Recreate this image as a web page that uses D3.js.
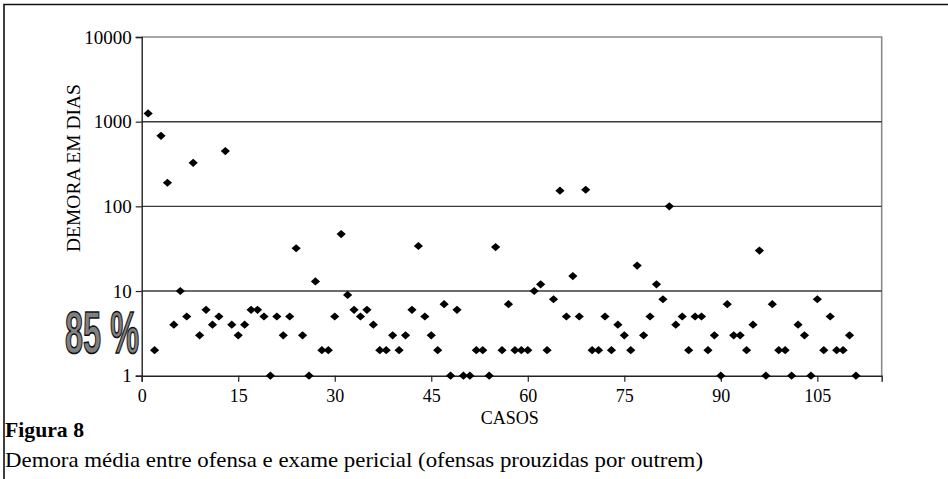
<!DOCTYPE html>
<html>
<head>
<meta charset="utf-8">
<script src="https://cdn.jsdelivr.net/npm/d3@7"></script>
<style>
  html, body { margin: 0; padding: 0; background: #fff; }
  svg { display: block; }
  text { font-family: "Liberation Serif", "Times New Roman", serif; fill: #000; }
</style>
</head>
<body>
<svg id="chart" width="948" height="479"></svg>
<script>
// Case numbers (1..111) and delay in days between offence and forensic exam
const casos = d3.range(1, 112);
const demora = [
  1250, 2, 680, 190, 4, 10, 5, 327, 3, 6,
  4, 5, 450, 4, 3, 4, 6, 6, 5, 1,
  5, 3, 5, 32, 3, 1, 13, 2, 2, 5,
  47, 9, 6, 5, 6, 4, 2, 2, 3, 2,
  3, 6, 34, 5, 3, 2, 7, 1, 6, 1,
  1, 2, 2, 1, 33, 2, 7, 2, 2, 2,
  10, 12, 2, 8, 153, 5, 15, 5, 157, 2,
  2, 5, 2, 4, 3, 2, 20, 3, 5, 12,
  8, 100, 4, 5, 2, 5, 5, 2, 3, 1,
  7, 3, 3, 2, 4, 30, 1, 7, 2, 2,
  1, 4, 3, 1, 8, 2, 5, 2, 2, 3,
  1
];
const xTicks = [0, 15, 30, 45, 60, 75, 90, 105];
const yTicks = [1, 10, 100, 1000, 10000];

const svg = d3.select("#chart");
const plot = { left: 141.7, right: 881.7, top: 37, bottom: 375.7 };

const x = d3.scaleLinear().domain([0, 115]).range([plot.left, plot.right]);
const y = d3.scaleLog().domain([1, 10000]).range([plot.bottom, plot.top]);

// outer frame (top and left edges)
svg.append("path")
  .attr("d", "M4,479 V4.5 H948")
  .attr("fill", "none").attr("stroke", "#111").attr("stroke-width", 1.6);

// plot box top/right in grey
svg.append("path")
  .attr("d", `M${plot.left},${plot.top} H${plot.right} V${plot.bottom}`)
  .attr("fill", "none").attr("stroke", "#8a8a8a").attr("stroke-width", 1.6);

// horizontal gridlines
svg.append("g").selectAll("line")
  .data(yTicks.filter(v => v > 1 && v < 10000))
  .join("line")
  .attr("x1", plot.left).attr("x2", plot.right)
  .attr("y1", d => y(d)).attr("y2", d => y(d))
  .attr("stroke", "#3a3a3a").attr("stroke-width", 1.4);

// Y axis
const yAxis = svg.append("g")
  .attr("transform", `translate(${plot.left},0)`)
  .call(d3.axisLeft(y).tickValues(yTicks).tickFormat(d3.format("d")).tickSize(6).tickPadding(4));
yAxis.select(".domain").attr("stroke", "#222").attr("stroke-width", 1.4);
yAxis.selectAll(".tick line").attr("stroke", "#222").attr("stroke-width", 1.2);
yAxis.selectAll(".tick text").attr("font-size", 19).attr("fill", "#000");

// X axis
const xAxis = svg.append("g")
  .attr("transform", `translate(0,${plot.bottom})`)
  .call(d3.axisBottom(x).tickValues(xTicks).tickFormat(d3.format("d")).tickSize(6).tickPadding(8));
xAxis.select(".domain").attr("stroke", "#222").attr("stroke-width", 1.4);
xAxis.selectAll(".tick line").attr("stroke", "#222").attr("stroke-width", 1.2);
xAxis.selectAll(".tick text").attr("font-size", 18).attr("fill", "#000");
yAxis.attr("font-family", null);
xAxis.attr("font-family", null);

// rhombus marker, slightly wider than tall
const rhombus = {
  draw(ctx, size) {
    const w = 4.6, h = 4.1;
    ctx.moveTo(0, -h); ctx.lineTo(w, 0); ctx.lineTo(0, h); ctx.lineTo(-w, 0); ctx.closePath();
  }
};
svg.append("g").selectAll("path")
  .data(casos.map((c, i) => ({ c, v: demora[i] })))
  .join("path")
  .attr("d", d3.symbol().type(rhombus))
  .attr("transform", d => `translate(${x(d.c)},${y(d.v)})`)
  .attr("fill", "#000");

// axis titles
svg.append("text")
  .attr("transform", "translate(80,168) rotate(-90)")
  .attr("text-anchor", "middle")
  .attr("font-size", 19.5)
  .text("DEMORA EM DIAS");

svg.append("text")
  .attr("x", (plot.left + plot.right) / 2 - 2).attr("y", 424)
  .attr("text-anchor", "middle")
  .attr("font-size", 18)
  .text("CASOS");

// share annotation
svg.append("text")
  .attr("x", 65).attr("y", 353)
  .attr("textLength", 74).attr("lengthAdjust", "spacingAndGlyphs")
  .style("font-family", "'Liberation Sans Narrow', 'Liberation Sans', sans-serif")
  .attr("font-weight", "bold")
  .attr("font-size", 59)
  .style("fill", "#808080")
  .attr("stroke", "#111").attr("stroke-width", 1.6)
  .text("85 %");

// figure caption
svg.append("text")
  .attr("x", 5).attr("y", 437)
  .attr("font-weight", "bold")
  .attr("font-size", 22)
  .attr("textLength", 79).attr("lengthAdjust", "spacingAndGlyphs")
  .text("Figura 8");

svg.append("text")
  .attr("x", 5).attr("y", 467)
  .attr("font-size", 21)
  .attr("textLength", 698).attr("lengthAdjust", "spacingAndGlyphs")
  .text("Demora média entre ofensa e exame pericial (ofensas prouzidas por outrem)");
</script>
</body>
</html>
